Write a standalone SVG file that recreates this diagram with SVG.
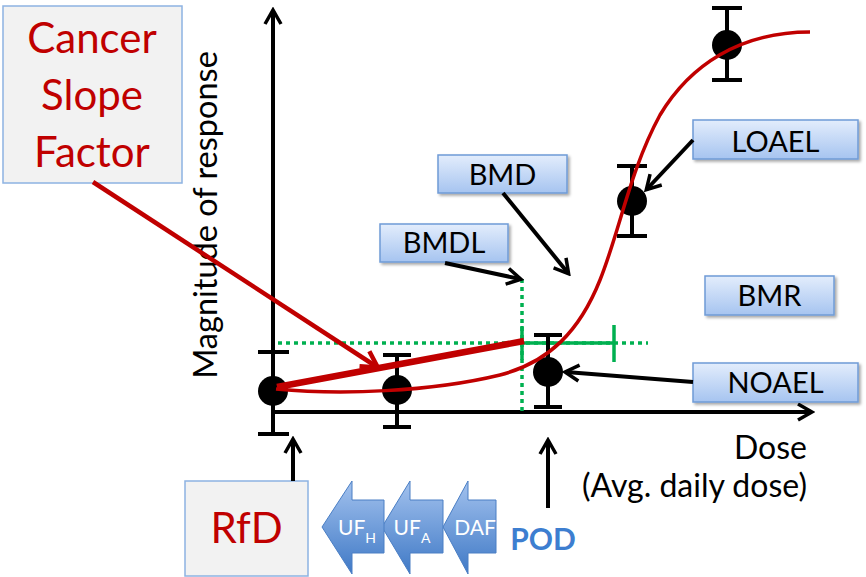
<svg xmlns="http://www.w3.org/2000/svg" width="866" height="577" viewBox="0 0 866 577">
  <style>
    .lbl { font-family: Lato, "Liberation Sans", sans-serif; font-size: 29px; fill: #000; text-anchor: middle; }
    .big { font-family: Lato, "Liberation Sans", sans-serif; font-size: 42px; fill: #C00000; text-anchor: middle; }
    .axis { font-family: Lato, "Liberation Sans", sans-serif; font-size: 32.5px; fill: #000; }
    .dose { font-family: Lato, "Liberation Sans", sans-serif; font-size: 32px; fill: #000; text-anchor: end; }
    .uf { font-family: Lato, "Liberation Sans", sans-serif; font-size: 21px; fill: #fff; text-anchor: middle; }
    .blk { stroke: #000; stroke-width: 4; fill: none; }
    .bar { stroke: #000; stroke-width: 4; fill: none; }
    .pt { fill: #000; }
    .box { fill: url(#boxGrad); stroke: #6f9bd6; stroke-width: 1.5; filter: url(#shadow); }
    .grey { fill: #f2f2f2; stroke: #8db3e2; stroke-width: 1.5; }
    .dot { stroke: #00B050; stroke-width: 3.5; stroke-dasharray: 4 4; fill: none; }
    .grn { stroke: #00B050; stroke-width: 3.5; fill: none; }
    .blockarrow { fill: url(#arrGrad); stroke: #4a7ec4; stroke-width: 1; }
  </style>
  <defs>
    <linearGradient id="boxGrad" x1="0" y1="0" x2="0" y2="1">
      <stop offset="0" stop-color="#e3edfc"/>
      <stop offset="1" stop-color="#a6c4f0"/>
    </linearGradient>
    <linearGradient id="arrGrad" x1="0" y1="0" x2="0" y2="1">
      <stop offset="0" stop-color="#a3c2ee"/>
      <stop offset="1" stop-color="#3f79c6"/>
    </linearGradient>
    <filter id="shadow" x="-10%" y="-20%" width="130%" height="160%">
      <feGaussianBlur in="SourceAlpha" stdDeviation="1.5"/>
      <feOffset dx="1.5" dy="2" result="off"/>
      <feComponentTransfer><feFuncA type="linear" slope="0.35"/></feComponentTransfer>
      <feMerge><feMergeNode/><feMergeNode in="SourceGraphic"/></feMerge>
    </filter>
    <marker id="openBlack" viewBox="0 0 20 20" refX="16" refY="10" markerWidth="20" markerHeight="20" markerUnits="userSpaceOnUse" orient="auto">
      <path d="M3,2 L17,10 L3,18" fill="none" stroke="#000" stroke-width="3.5"/>
    </marker>
    <marker id="openRed" viewBox="0 0 24 24" refX="19" refY="12" markerWidth="24" markerHeight="24" markerUnits="userSpaceOnUse" orient="auto">
      <path d="M4,3 L20,12 L4,21" fill="none" stroke="#C00000" stroke-width="4.5"/>
    </marker>
  </defs>

  <!-- axes -->
  <g id="axes">
    <line class="blk" x1="273" y1="412" x2="273" y2="11" marker-end="url(#openBlack)"/>
    <line class="blk" x1="271" y1="412" x2="811" y2="412" marker-end="url(#openBlack)"/>
    <text class="axis" text-anchor="middle" transform="translate(217,215) rotate(-90)">Magnitude of response</text>
    <text class="dose" x="807" y="459">Dose</text>
    <text class="dose" x="807" y="497">(Avg. daily dose)</text>
  </g>

  <!-- benchmark guide lines -->
  <g id="bmr-guides">
    <line class="dot" x1="278" y1="343" x2="648" y2="343"/>
    <line class="dot" x1="522" y1="279" x2="522" y2="411"/>
    <line class="grn" x1="522" y1="343" x2="614" y2="343"/>
    <line class="grn" x1="522" y1="326" x2="522" y2="360"/>
    <line class="grn" x1="614" y1="325" x2="614" y2="362"/>
  </g>

  <!-- observed data points with error bars -->
  <g id="data">
    <g id="p1">
      <line class="bar" x1="273" y1="352" x2="273" y2="434"/>
      <line class="bar" x1="258" y1="352" x2="289" y2="352"/>
      <line class="bar" x1="258" y1="434" x2="289" y2="434"/>
      <circle class="pt" cx="273" cy="391" r="15"/>
    </g>
    <g id="p2">
      <line class="bar" x1="397" y1="355" x2="397" y2="427"/>
      <line class="bar" x1="383" y1="355" x2="411" y2="355"/>
      <line class="bar" x1="383" y1="427" x2="411" y2="427"/>
      <circle class="pt" cx="397" cy="390" r="15"/>
    </g>
    <g id="p3">
      <line class="bar" x1="548" y1="335" x2="548" y2="407"/>
      <line class="bar" x1="534" y1="335" x2="562" y2="335"/>
      <line class="bar" x1="534" y1="407" x2="562" y2="407"/>
      <circle class="pt" cx="548" cy="372" r="15"/>
    </g>
    <g id="p4">
      <line class="bar" x1="632" y1="166" x2="632" y2="236"/>
      <line class="bar" x1="617" y1="166" x2="647" y2="166"/>
      <line class="bar" x1="617" y1="236" x2="647" y2="236"/>
      <circle class="pt" cx="632" cy="201" r="15"/>
    </g>
    <g id="p5">
      <line class="bar" x1="727" y1="8" x2="727" y2="80"/>
      <line class="bar" x1="712" y1="8" x2="742" y2="8"/>
      <line class="bar" x1="712" y1="80" x2="742" y2="80"/>
      <circle class="pt" cx="727" cy="45" r="15"/>
    </g>
  </g>

  <!-- fitted dose-response curve and low-dose slope -->
  <g id="curve">
    <path d="M276,389 C340,395 430,392 500,375 C550,362 580,330 600,280 C620,230 630,170 660,115 C690,65 740,32 810,32" fill="none" stroke="#C00000" stroke-width="3.5"/>
    <line x1="277" y1="387" x2="524" y2="341" stroke="#C00000" stroke-width="6.5"/>
  </g>

  <!-- nodes -->
  <g id="csf">
    <rect class="grey" x="3" y="6" width="179" height="177"/>
    <text class="big" x="92" y="53">Cancer</text>
    <text class="big" x="92" y="110">Slope</text>
    <text class="big" x="92" y="167">Factor</text>
  </g>
  <g id="rfd">
    <rect class="grey" x="185" y="481" width="123" height="95"/>
    <text class="big" x="246.5" y="543">RfD</text>
  </g>
  <g id="bmd">
    <rect class="box" x="438" y="155" width="129" height="38"/>
    <text class="lbl" x="502.5" y="185">BMD</text>
  </g>
  <g id="bmdl">
    <rect class="box" x="380" y="224" width="128" height="38"/>
    <text class="lbl" x="444" y="253">BMDL</text>
  </g>
  <g id="loael">
    <rect class="box" x="693" y="120" width="165" height="39"/>
    <text class="lbl" x="775.5" y="152">LOAEL</text>
  </g>
  <g id="bmr">
    <rect class="box" x="705" y="276" width="129" height="39"/>
    <text class="lbl" x="769.5" y="306">BMR</text>
  </g>
  <g id="noael">
    <rect class="box" x="693" y="363" width="165" height="39"/>
    <text class="lbl" x="775.5" y="393">NOAEL</text>
  </g>

  <!-- uncertainty factor block arrows -->
  <g id="daf">
    <path class="blockarrow" d="M443,527 L468,481 L468,500 L496,500 L496,553 L468,553 L468,574 Z"/>
    <text class="uf" x="475" y="535">DAF</text>
  </g>
  <g id="ufa">
    <path class="blockarrow" d="M382,527 L410,481 L410,500 L443,500 L443,553 L410,553 L410,574 Z"/>
    <text class="uf" x="412" y="535">UF<tspan font-size="14" dy="8">A</tspan></text>
  </g>
  <g id="ufh">
    <path class="blockarrow" d="M322,527 L352,481 L352,500 L384,500 L384,553 L352,553 L352,574 Z"/>
    <text class="uf" x="357" y="535">UF<tspan font-size="14" dy="8">H</tspan></text>
  </g>
  <g id="pod">
    <text x="543" y="550" font-family="Lato, 'Liberation Sans', sans-serif" font-size="30" font-weight="bold" fill="#3d7ed0" text-anchor="middle">POD</text>
  </g>

  <!-- connectors -->
  <g id="connectors">
    <line x1="93" y1="182" x2="377" y2="367" stroke="#C00000" stroke-width="4.5" marker-end="url(#openRed)"/>
    <line class="blk" x1="503" y1="193" x2="568" y2="273" marker-end="url(#openBlack)"/>
    <line class="blk" x1="445" y1="263" x2="520" y2="279" marker-end="url(#openBlack)"/>
    <line class="blk" x1="693" y1="140" x2="647" y2="189" marker-end="url(#openBlack)"/>
    <line class="blk" x1="693" y1="382" x2="566" y2="372" marker-end="url(#openBlack)"/>
    <line class="blk" x1="293" y1="481" x2="293" y2="440" marker-end="url(#openBlack)"/>
    <line class="blk" x1="548" y1="508" x2="548" y2="441" marker-end="url(#openBlack)"/>
  </g>
</svg>
